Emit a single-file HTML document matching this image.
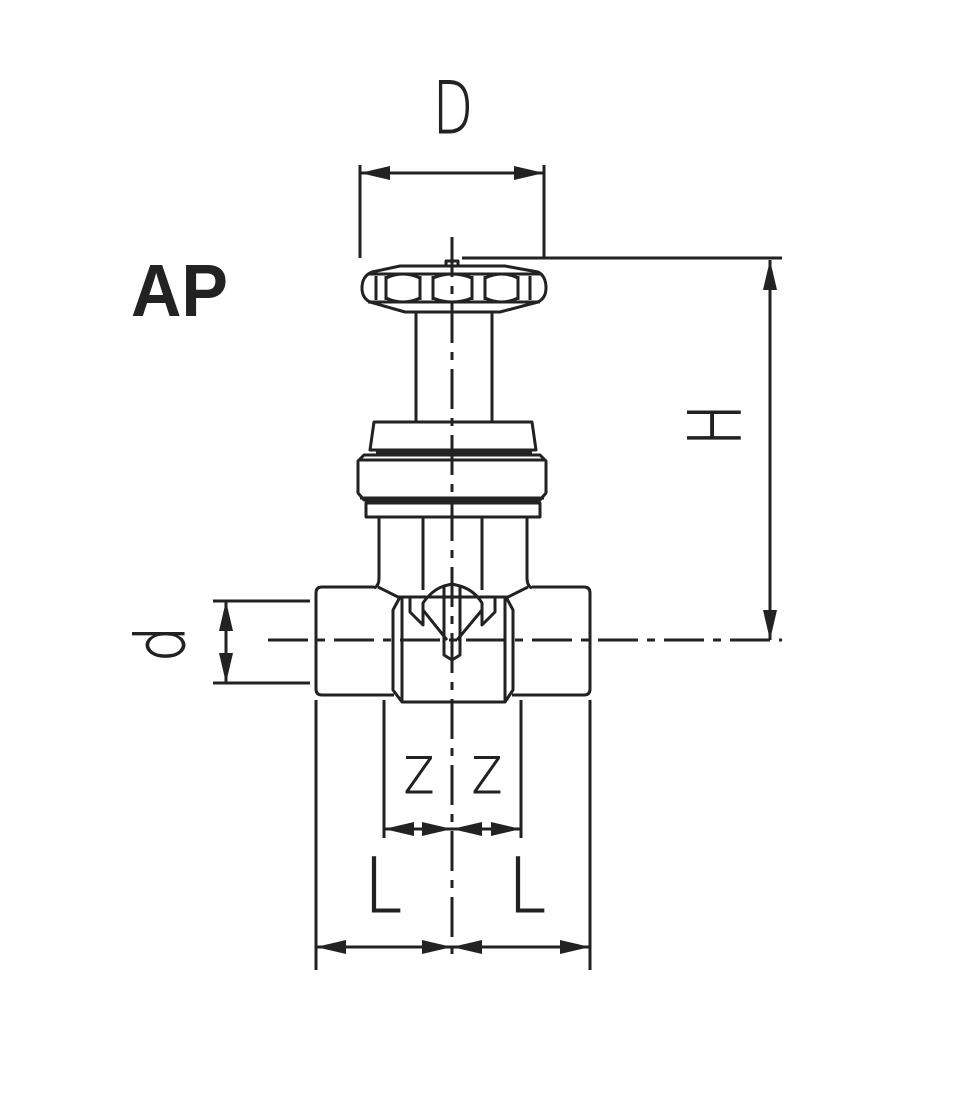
<!DOCTYPE html>
<html><head><style>html,body{margin:0;padding:0;background:#fff}svg{display:block}</style></head>
<body>
<svg width="954" height="1095" viewBox="0 0 954 1095" xmlns="http://www.w3.org/2000/svg">
<defs>
<marker id="a" viewBox="0 0 30 14" refX="30" refY="7" markerWidth="30" markerHeight="14" markerUnits="userSpaceOnUse" orient="auto-start-reverse"><path d="M0,0 L30,7 L0,14 z" fill="#222"/></marker>
</defs>
<g stroke="#222" stroke-width="3" fill="none" stroke-linejoin="round">
<line x1="452" y1="237" x2="452" y2="962" stroke-dasharray="40,9,8,9"/>
<line x1="268" y1="640" x2="782" y2="640" stroke-dasharray="40,9,8,9"/>
<path d="M372,272 L400,266 L505,266 L538,272 Q546,276 546,288 Q546,298 538,302 L500,312 L405,312 L370,302 Q362,298 362,288 Q362,276 372,272 Z"/>
<line x1="368" y1="302" x2="540" y2="302"/>
<line x1="368" y1="274" x2="540" y2="274"/>
<path d="M376,276 L376,300 M386,276 L386,300 M420,276 L420,300 M433,276 L433,300 M472,276 L472,300 M485,276 L485,300 M518,276 L518,300 M530,276 L530,300"/>
<path d="M386,278 Q403,270 420,278 M386,298 Q403,306 420,298 M433,278 Q452,270 472,278 M433,298 Q452,306 472,298 M485,278 Q502,270 518,278 M485,298 Q502,306 518,298"/>
<rect x="446" y="261" width="12" height="5"/>
<path d="M416,312 L416,422 M492,312 L492,422"/>
<path d="M374,422 L532,422 L536,450 L370,450 Z"/>
<line x1="376" y1="453" x2="532" y2="453"/>
<path d="M364,455 L540,455 L546,461 L546,493 L540,500 L364,500 L358,493 L358,461 Z"/>
<line x1="360" y1="460" x2="544" y2="460"/>
<line x1="360" y1="498" x2="544" y2="498"/>
<rect x="366" y="503" width="174" height="14"/>
<path d="M379,517 L379,578 Q379,586 374,588 M527,517 L527,578 Q527,586 532,588"/>
<path d="M423,517 L423,590 M482,517 L482,590"/>
<path d="M374,587 L322,587 Q316,587 316,593 L316,689 Q316,695 322,695 L394,695"/>
<path d="M532,587 L584,587 Q590,587 590,593 L590,689 Q590,695 584,695 L512,695"/>
<path d="M378,587 L398,597 L508,597 L528,587"/>
<path d="M400,597 L393,610 L393,690 L402,702 L505,702 L513,690 L513,610 L506,597"/>
<path d="M402,597 L402,702 M505,597 L505,702"/>
<path d="M410,597 L410,612 L423,625 L423,603 Q432,590 444,586 L444,655 L452,660 L460,655 L460,586 Q474,590 482,603 L482,625 L495,612 L495,597"/>
<path d="M423,610 L447,640 M482,610 L457,640"/>
<path d="M444,586 L452,584 L460,586"/>
<line x1="360" y1="165" x2="360" y2="258"/>
<line x1="544" y1="165" x2="544" y2="258"/>
<line x1="360" y1="173" x2="544" y2="173" marker-start="url(#a)" marker-end="url(#a)"/>
<line x1="462" y1="258" x2="782" y2="258"/>
<line x1="770" y1="260" x2="770" y2="640" marker-start="url(#a)" marker-end="url(#a)"/>
<line x1="213" y1="601" x2="310" y2="601"/>
<line x1="213" y1="683" x2="310" y2="683"/>
<line x1="226" y1="601" x2="226" y2="683" marker-start="url(#a)" marker-end="url(#a)"/>
<line x1="384" y1="700" x2="384" y2="838"/>
<line x1="521" y1="700" x2="521" y2="838"/>
<line x1="384" y1="829" x2="452" y2="829" marker-start="url(#a)" marker-end="url(#a)"/>
<line x1="452" y1="829" x2="521" y2="829" marker-start="url(#a)" marker-end="url(#a)"/>
<line x1="316" y1="700" x2="316" y2="970"/>
<line x1="590" y1="700" x2="590" y2="970"/>
<line x1="316" y1="947" x2="452" y2="947" marker-start="url(#a)" marker-end="url(#a)"/>
<line x1="452" y1="947" x2="590" y2="947" marker-start="url(#a)" marker-end="url(#a)"/>
</g>
<g fill="#222" stroke="#222" stroke-width="1" font-family="'DejaVu Sans','Liberation Sans',sans-serif">
<text x="433" y="133" font-size="72" font-weight="200" textLength="40" lengthAdjust="spacingAndGlyphs">D</text>
<text x="404" y="793" font-size="50" font-weight="200" textLength="30" lengthAdjust="spacingAndGlyphs">Z</text>
<text x="472" y="793" font-size="50" font-weight="200" textLength="30" lengthAdjust="spacingAndGlyphs">Z</text>
<text x="364" y="912" font-size="76" font-weight="200" textLength="38" lengthAdjust="spacingAndGlyphs">L</text>
<text x="508" y="912" font-size="76" font-weight="200" textLength="38" lengthAdjust="spacingAndGlyphs">L</text>
<text transform="translate(740,446) rotate(-90)" font-size="72" font-weight="200" textLength="42" lengthAdjust="spacingAndGlyphs">H</text>
<text transform="translate(184,662) rotate(-90)" font-size="68" font-weight="200" textLength="36" lengthAdjust="spacingAndGlyphs">d</text>
</g>
<text x="131" y="316" fill="#222" font-family="'Liberation Sans',sans-serif" font-size="74" font-weight="bold" textLength="97" lengthAdjust="spacingAndGlyphs">AP</text>
</svg>
</body></html>
